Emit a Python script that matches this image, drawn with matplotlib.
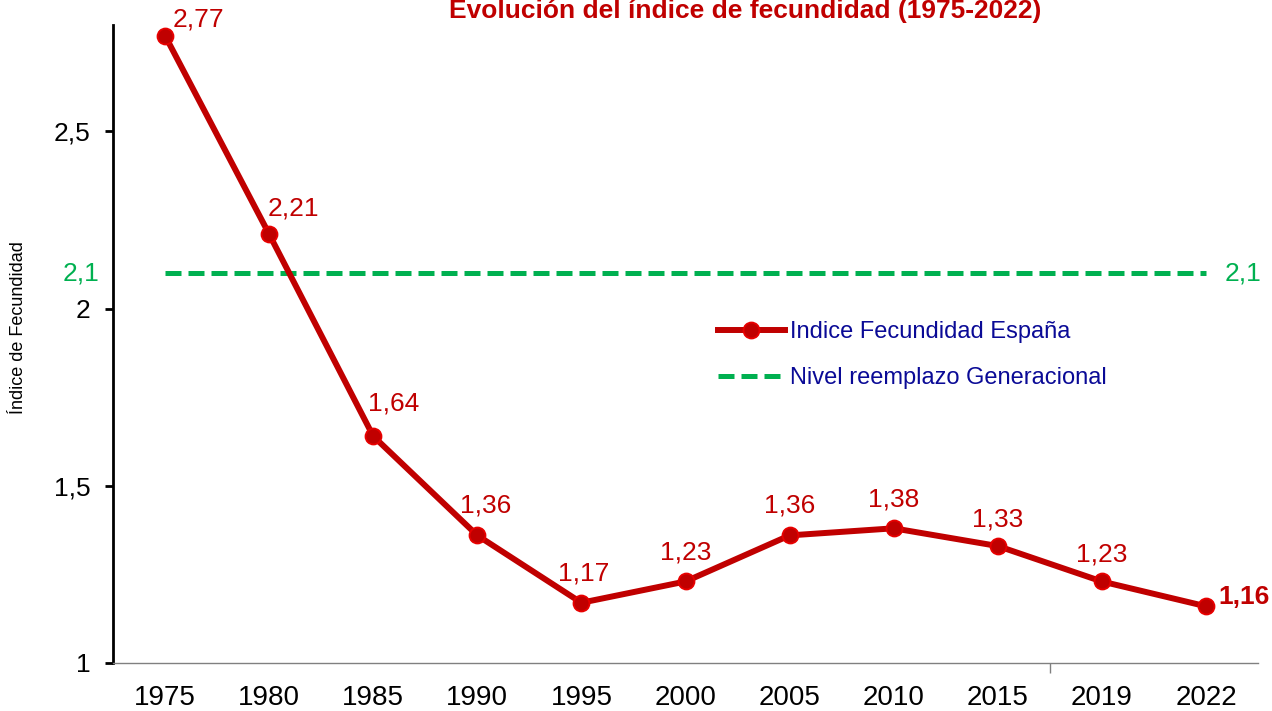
import matplotlib
matplotlib.use("Agg")
import matplotlib.pyplot as plt
from matplotlib.ticker import FixedLocator, FuncFormatter

plt.rcParams['font.family'] = ['Liberation Sans', 'DejaVu Sans']

# ------------------------------------------
# Data
# ------------------------------------------
years = ["1975", "1980", "1985", "1990", "1995", "2000", "2005", "2010", "2015", "2019", "2022"]
fecundidad = [2.77, 2.21, 1.64, 1.36, 1.17, 1.23, 1.36, 1.38, 1.33, 1.23, 1.16]
reemplazo = [2.1] * len(years)

# label offsets in pixels (style only)
label_offsets = [(33, 16), (24, 26), (20, 33), (8, 30), (2, 29), (0, 29),
                 (0, 30), (0, 29), (0, 27), (0, 27), (12, 9)]

RED = "#C00000"
GREEN = "#00B050"
NAVY = "#0A0A96"

def coma(v):
    return f"{v:g}".replace(".", ",")

fig = plt.figure(figsize=(12.72, 7.11), dpi=100)
ax = fig.add_axes([113/1272, 48/711, (1258-113)/1272, (663-25)/711])

x = list(range(len(years)))
ax.plot(x, fecundidad, color=RED, lw=4.3, marker="o", ms=11.5, mfc=RED, mec="#E80000", mew=1.3,
        label="Indice Fecundidad España", zorder=3)
ax.plot(x, reemplazo, color=GREEN, lw=3.6, ls=(0, (3.2, 1.4)), label="Nivel reemplazo Generacional", zorder=2)

# data labels
for i, (v, off) in enumerate(zip(fecundidad, label_offsets)):
    last = i == len(fecundidad) - 1
    ax.annotate(coma(v), (i, v), xytext=off, textcoords="offset pixels",
                ha="left" if last else "center", va="center", fontsize=19,
                color=RED, fontweight="bold" if last else "normal", annotation_clip=False)

# replacement level labels
ax.annotate(coma(reemplazo[0]), (0, reemplazo[0]), xytext=(-84, 0), textcoords="offset pixels",
            ha="center", va="center", fontsize=19, color=GREEN, annotation_clip=False)
ax.annotate(coma(reemplazo[-1]), (len(years)-1, reemplazo[-1]), xytext=(37, 0), textcoords="offset pixels",
            ha="center", va="center", fontsize=19, color=GREEN, annotation_clip=False)

ax.set_xlim(-0.5, len(years) - 0.5)
ax.set_ylim(1, 2.8)
ax.set_xticks(x)
ax.set_xticklabels(years, fontsize=20)
ax.xaxis.set_minor_locator(FixedLocator([8.5]))
ax.tick_params(axis="x", which="major", length=0, pad=16)
ax.tick_params(axis="x", which="minor", length=7, width=1, color="#808080")
ax.set_yticks([1, 1.5, 2, 2.5])
ax.yaxis.set_major_formatter(FuncFormatter(lambda v, p: coma(v)))
ax.tick_params(axis="y", length=6, width=2, labelsize=19, pad=10)

for s in ["top", "right"]:
    ax.spines[s].set_visible(False)
ax.spines["left"].set_linewidth(2)
ax.spines["bottom"].set_color("#808080")
ax.spines["bottom"].set_linewidth(1)

ax.set_ylabel("Índice de Fecundidad", fontsize=13)
ax.yaxis.set_label_coords((27 - 113)/1145, (663 - 328)/638)

leg = ax.legend(loc="upper left", bbox_to_anchor=(596/1145, (663-312)/638), frameon=False,
                fontsize=17, handlelength=2.8, numpoints=1, labelspacing=1.0, handletextpad=0.25,
                borderaxespad=0)
for t in leg.get_texts():
    t.set_color(NAVY)

fig.text(745/1272, 1 - 18/711, "Evolución del índice de fecundidad (1975-2022)", ha="center", va="baseline",
         fontsize=19, fontweight="bold", color=RED)

fig.savefig("out.png", dpi=100)
